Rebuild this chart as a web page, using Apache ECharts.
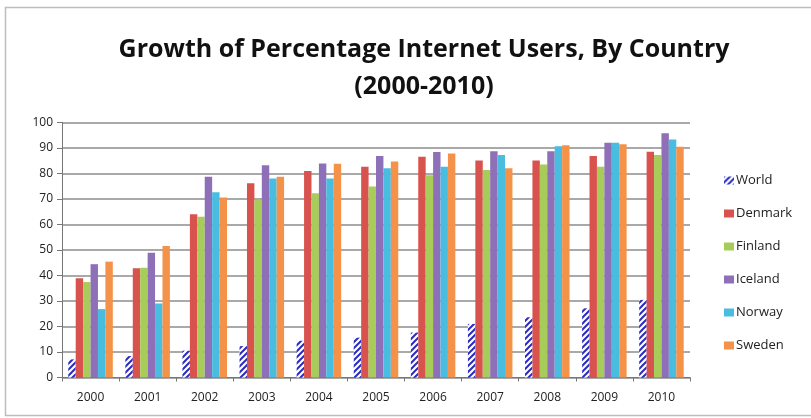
<!DOCTYPE html>
<html><head><meta charset="utf-8">
<script src="https://cdn.jsdelivr.net/npm/echarts@6/dist/echarts.min.js"></script>
<style>html,body{margin:0;padding:0;background:#fff}#c{width:811px;height:418px}</style>
</head><body><div id="c"></div>
<script>
const years = ['2000','2001','2002','2003','2004','2005','2006','2007','2008','2009','2010'];
const world   = [7.1, 8.4, 10.5, 12.3, 14.4, 15.6, 17.6, 21.0, 23.6, 27.1, 30.4];
const denmark = [38.9, 42.8, 64.0, 76.1, 80.9, 82.6, 86.5, 85.0, 85.0, 86.8, 88.5];
const finland = [37.4, 43.0, 63.0, 69.6, 72.2, 74.8, 79.3, 81.3, 83.5, 82.6, 87.2];
const iceland = [44.4, 48.9, 78.7, 83.2, 83.9, 86.8, 88.4, 88.7, 88.7, 92.0, 95.7];
const norway  = [26.8, 29.0, 72.6, 78.0, 78.0, 82.0, 82.6, 87.2, 90.6, 92.0, 93.3];
const sweden  = [45.4, 51.5, 70.5, 78.7, 83.8, 84.6, 87.8, 82.0, 91.0, 91.4, 90.4];
const yTicks = [0,10,20,30,40,50,60,70,80,90,100];

// hatch pattern for World
const pc = document.createElement('canvas');
pc.width = 6; pc.height = 6;
const g = pc.getContext('2d');
g.fillStyle = '#ffffff'; g.fillRect(0,0,6,6);
g.strokeStyle = '#2b2bc4'; g.lineWidth = 2;
g.beginPath();
g.moveTo(-1,7); g.lineTo(7,-1);
g.moveTo(-4,4); g.lineTo(4,-4);
g.moveTo(2,10); g.lineTo(10,2);
g.stroke();
const hatch = {image: pc, repeat: 'repeat'};

const seriesDefs = [
  ['World', world, hatch],
  ['Denmark', denmark, '#d9534e'],
  ['Finland', finland, '#a8cc5a'],
  ['Iceland', iceland, '#8d70b8'],
  ['Norway', norway, '#48bde0'],
  ['Sweden', sweden, '#f59249']
];

const chart = echarts.init(document.getElementById('c'), null, {renderer:'canvas'});
chart.setOption({
  animation: false,
  backgroundColor: '#fff',
  title: {
    text: 'Growth of Percentage Internet Users, By Country\n(2000-2010)',
    left: 419, top: 26, textAlign: 'center',
    textStyle: {fontFamily: 'Open Sans', fontWeight: 'bold', fontSize: 25, color: '#111', lineHeight: 37}
  },
  legend: {
    orient: 'vertical', left: 719, top: 169, itemGap: 20,
    itemWidth: 10, itemHeight: 8,
    icon: 'rect',
    textStyle: {fontFamily: 'Open Sans', fontSize: 13, color: '#222', padding:[0,0,0,-3]},
    data: seriesDefs.map(d => d[0])
  },
  grid: {left: 62, right: 121, top: 122.3, bottom: 40.5, containLabel: false},
  xAxis: {
    type: 'category', data: years,
    axisLine: {lineStyle: {color: '#777', width: 1}},
    axisTick: {show: true, alignWithLabel: false, length: 4, lineStyle: {color: '#777'}},
    axisLabel: {fontFamily: 'Open Sans', fontSize: 12, color: '#222', margin: 14}
  },
  yAxis: {
    type: 'value', min: 0, max: 100, interval: 10,
    axisLine: {show: true, lineStyle: {color: '#777', width: 1}},
    axisTick: {show: true, length: 5, lineStyle: {color: '#777'}},
    axisLabel: {fontFamily: 'Open Sans', fontSize: 12, color: '#222', margin: 9,
      formatter: v => yTicks.includes(v) ? String(v) : ''},
    splitLine: {lineStyle: {color: '#8c8c8c', width: 1.5}}
  },
  graphic: [{
    type: 'rect', shape: {x: 5.5, y: 7.5, width: 820, height: 408},
    style: {fill: 'none', stroke: '#bdbdbd', lineWidth: 1.5}, silent: true, z: -1
  }],
  series: seriesDefs.map(d => ({
    name: d[0], type: 'bar', data: d[1],
    barGap: '0%', barCategoryGap: '22%',
    itemStyle: {color: d[2], borderWidth: 0}
  }))
});
</script></body></html>
